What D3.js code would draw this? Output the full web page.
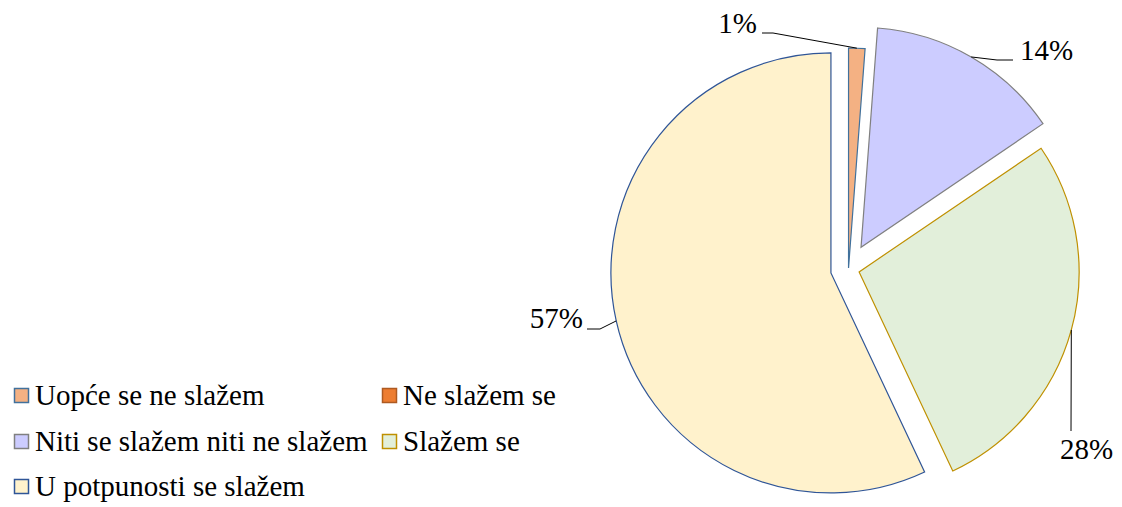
<!DOCTYPE html>
<html>
<head>
<meta charset="utf-8">
<script src="https://cdn.jsdelivr.net/npm/d3@7"></script>
</head>
<body style="margin:0">
<div id="app"></div>
<script>
// data
const categories = ['Uopće se ne slažem', 'Ne slažem se', 'Niti se slažem niti ne slažem', 'Slažem se', 'U potpunosti se slažem']
const values = [1.2, 0, 14.3, 27.5, 57.0]
const labels = ['1%', '', '14%', '28%', '57%']

const fills = ['#F4B183', '#ED7D31', '#CCCCFF', '#E2EFDA', '#FFF2CC']
const strokes = ['#41719C', '#AE5A21', '#808080', '#BF9000', '#2F5597']

// layout
const w = 1122
const h = 507
const cx = 848.5
const cy = 269
const r = 220
const fontSize = 29
// how far each slice is pulled out from the centre
const explode = [1, 0, 25, 11, 18]

// where each label sits, and the leader line from the label to the slice
const labelPos = [
  { x: 757, y: 33, anchor: 'end', line: [[762, 33], [773, 33]] },
  null,
  { x: 1020, y: 60, anchor: 'start', line: [[1013, 60], [997, 60]] },
  { x: 1060, y: 459, anchor: 'start', line: [[1071, 431]] },
  { x: 583, y: 328, anchor: 'end', line: [[587, 329], [600, 329]] }
]

const data = categories.map((c, i) => ({ name: c, value: values[i], label: labels[i], i: i }))

const svg = d3.select('#app')
  .append('svg')
  .attr('width', w)
  .attr('height', h)
  .attr('font-family', 'Liberation Serif')

const pie = d3.pie()
  .sort(null)
  .value(d => d.value)

const arc = d3.arc()
  .innerRadius(0)
  .outerRadius(r)

const arcs = pie(data)

const offset = function (d) {
  const mid = (d.startAngle + d.endAngle) / 2
  const e = explode[d.data.i]
  return [cx + e * Math.sin(mid), cy - e * Math.cos(mid)]
}

// slices
svg.selectAll('path.slice')
  .data(arcs.filter(d => d.value > 0))
  .enter()
  .append('path')
  .attr('class', 'slice')
  .attr('transform', d => 'translate(' + offset(d) + ')')
  .attr('d', arc)
  .attr('fill', d => fills[d.data.i])
  .attr('stroke', d => strokes[d.data.i])
  .attr('stroke-width', 1.2)

// leader lines end on the middle of the outer arc
const line = d3.line()
const labelled = arcs.filter(d => labelPos[d.data.i])

svg.selectAll('path.leader')
  .data(labelled)
  .enter()
  .append('path')
  .attr('class', 'leader')
  .attr('d', function (d) {
    const o = offset(d)
    const mid = (d.startAngle + d.endAngle) / 2
    const end = [o[0] + r * Math.sin(mid), o[1] - r * Math.cos(mid)]
    return line(labelPos[d.data.i].line.concat([end]))
  })
  .attr('fill', 'none')
  .attr('stroke', '#000')
  .attr('stroke-width', 1)

svg.selectAll('text.pct')
  .data(labelled)
  .enter()
  .append('text')
  .attr('class', 'pct')
  .attr('x', d => labelPos[d.data.i].x)
  .attr('y', d => labelPos[d.data.i].y)
  .attr('text-anchor', d => labelPos[d.data.i].anchor)
  .attr('font-size', fontSize)
  .text(d => d.data.label)

// legend, two columns
const colX = [14, 382]
const rowY = [395, 441, 486]
const box = 14

svg.selectAll('rect.key')
  .data(data)
  .enter()
  .append('rect')
  .attr('class', 'key')
  .attr('x', (d, i) => colX[i % 2] + 0.5)
  .attr('y', (d, i) => rowY[Math.floor(i / 2)] - box / 2 + 0.5)
  .attr('width', box)
  .attr('height', box)
  .attr('fill', d => fills[d.i])
  .attr('stroke', d => strokes[d.i])
  .attr('stroke-width', 1.5)

svg.selectAll('text.name')
  .data(data)
  .enter()
  .append('text')
  .attr('class', 'name')
  .attr('x', (d, i) => colX[i % 2] + 21)
  .attr('y', (d, i) => rowY[Math.floor(i / 2)] + 9.5)
  .attr('font-size', fontSize)
  .text(d => d.name)
</script>
</body>
</html>
